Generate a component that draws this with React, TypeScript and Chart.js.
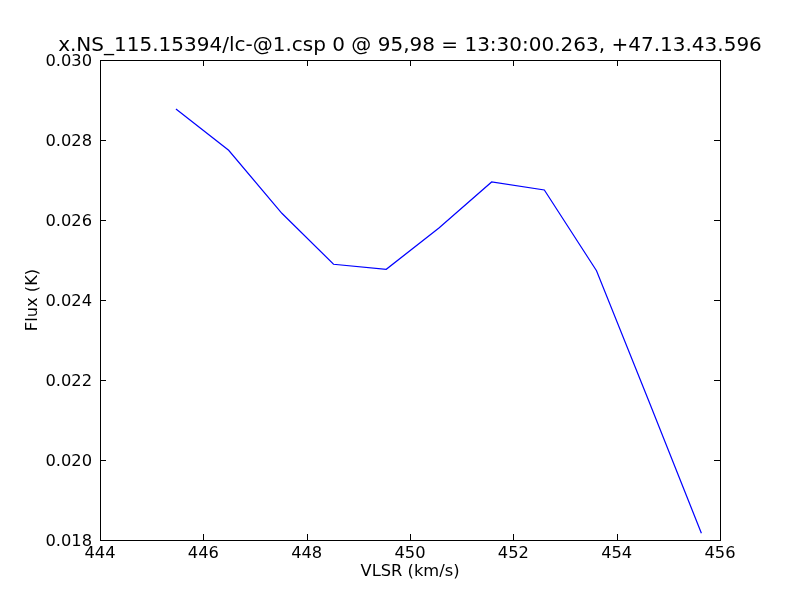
import React, { useEffect, useRef } from "react";
import { Chart, registerables } from "chart.js";

Chart.register(...registerables);

const velocity = [445.47, 446.49, 447.52, 448.52, 449.54, 450.56, 451.58, 452.6, 453.61, 454.62, 455.64];
const flux = [0.028775, 0.027743, 0.026168, 0.024893, 0.024768, 0.0258, 0.02695, 0.02675, 0.024733, 0.02148, 0.018168];
const titleText = "x.NS_115.15394/lc-@1.csp 0 @ 95,98 = 13:30:00.263, +47.13.43.596";
const xLabel = "VLSR (km/s)";
const yLabel = "Flux (K)";

const FONT = "'DejaVu Sans', sans-serif";

const inwardTicks = {
  id: "inwardTicks",
  afterDraw(chart: any) {
    const { ctx, chartArea } = chart;
    const { left, right, top, bottom } = chartArea;
    const xs = chart.scales.x;
    const ys = chart.scales.y;
    const len = 6;
    ctx.save();
    ctx.strokeStyle = "#000";
    ctx.lineWidth = 1;
    ctx.beginPath();
    xs.ticks.forEach((t: any) => {
      const px = Math.round(xs.getPixelForValue(t.value)) + 0.5;
      ctx.moveTo(px, bottom);
      ctx.lineTo(px, bottom - len);
      ctx.moveTo(px, top);
      ctx.lineTo(px, top + len);
    });
    ys.ticks.forEach((t: any) => {
      const py = Math.round(ys.getPixelForValue(t.value)) + 0.5;
      ctx.moveTo(left, py);
      ctx.lineTo(left + len, py);
      ctx.moveTo(right, py);
      ctx.lineTo(right - len, py);
    });
    ctx.stroke();
    ctx.strokeRect(Math.round(left) + 0.5, Math.round(top) + 0.5, Math.round(right - left), Math.round(bottom - top));
    // title centred over the axes
    ctx.fillStyle = "#000";
    ctx.font = `20px ${FONT}`;
    ctx.textAlign = "center";
    ctx.textBaseline = "alphabetic";
    ctx.fillText(titleText, (left + right) / 2, top - 9.5);
    ctx.restore();
  },
};

export default function App() {
  const ref = useRef<HTMLCanvasElement>(null);
  useEffect(() => {
    if (!ref.current) return;
    const chart = new Chart(ref.current, {
      type: "line",
      data: {
        datasets: [
          {
            data: velocity.map((v, i) => ({ x: v, y: flux[i] })),
            borderColor: "#0000ff",
            borderWidth: 1.2,
            pointRadius: 0,
            tension: 0,
            fill: false,
          },
        ],
      },
      options: {
        responsive: false,
        animation: false,
        layout: { padding: { left: 0, right: 80, top: 60, bottom: 0 } },
        plugins: {
          legend: { display: false },
          tooltip: { enabled: false },
          title: { display: false },
        },
        scales: {
          x: {
            type: "linear",
            min: 444,
            max: 456,
            grid: { display: false, drawTicks: false },
            border: { display: false },
            ticks: {
              stepSize: 2,
              color: "#000",
              padding: 4,
              maxRotation: 0,
              font: { family: FONT, size: 16.3 },
            },
            title: {
              display: true,
              text: xLabel,
              color: "#000",
              font: { family: FONT, size: 16.3, lineHeight: 1.2 },
              padding: { top: 0, bottom: 18 },
            },
            afterFit(scale: any) {
              scale.height = 60;
            },
          },
          y: {
            type: "linear",
            min: 0.018,
            max: 0.03,
            grid: { display: false, drawTicks: false },
            border: { display: false },
            ticks: {
              stepSize: 0.002,
              color: "#000",
              padding: 8,
              labelOffset: 1.5,
              font: { family: FONT, size: 16.3 },
              callback: (v: any) => Number(v).toFixed(3),
            },
            title: {
              display: true,
              text: yLabel,
              color: "#000",
              font: { family: FONT, size: 16.3, lineHeight: 1.2 },
              padding: { top: 23, bottom: 0 },
            },
            afterFit(scale: any) {
              scale.width = 100;
            },
          },
        },
      },
      plugins: [inwardTicks],
    });
    return () => chart.destroy();
  }, []);
  return (
    <div style={{ position: "fixed", left: 0, top: 0, width: 800, height: 600, background: "#fff" }}>
      <canvas ref={ref} width={800} height={600} style={{ width: 800, height: 600 }} />
    </div>
  );
}
